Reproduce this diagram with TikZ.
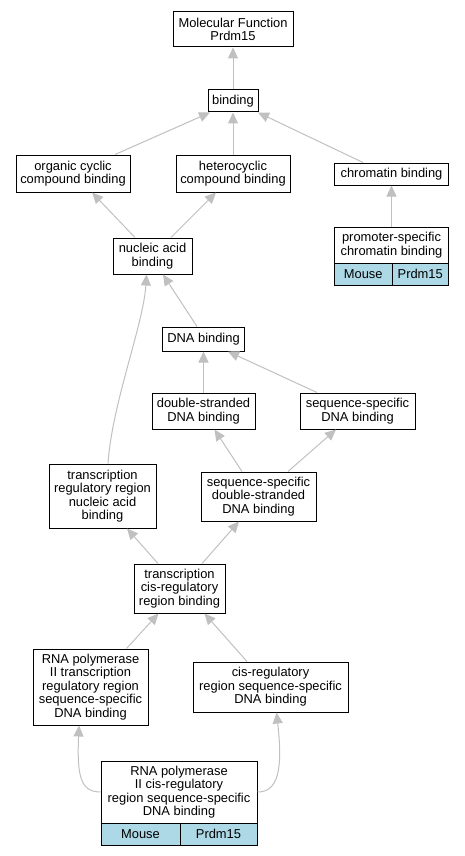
\documentclass[tikz,border=0pt]{standalone}
\usepackage{fontspec}
\setmainfont{Liberation Sans}
\usetikzlibrary{arrows.meta}
\definecolor{edgegray}{HTML}{C0C0C0}
\definecolor{cellblue}{HTML}{ADD8E6}
\tikzset{
  box/.style={draw=black, line width=1pt, inner sep=0pt, align=center,
    font=\fontsize{12.9pt}{13.4pt}\selectfont},
  cell/.style={box, fill=cellblue},
  edge/.style={draw=edgegray, line width=1pt,
    -{Triangle[length=11pt,width=10pt,fill=edgegray]}},
}
\begin{document}
\begin{tikzpicture}[x=1pt,y=-1pt]
\useasboundingbox (0,0) rectangle (464,856);
% nodes
\node[box, minimum width=120pt, minimum height=35pt] (mf) at (233,29.5) {Molecular Function\\Prdm15};
\node[box, minimum width=50pt, minimum height=22pt] (bind) at (233,101) {binding};
\node[box, minimum width=114pt, minimum height=37pt] (org) at (73,173.5) {organic cyclic\\compound binding};
\node[box, minimum width=114pt, minimum height=37pt] (het) at (233,173.5) {heterocyclic\\compound binding};
\node[box, minimum width=114pt, minimum height=22pt] (chrom) at (391.5,174) {chromatin binding};
\node[box, minimum width=114pt, minimum height=36pt] (prom) at (391.5,245) {promoter-specific\\chromatin binding};
\node[cell, minimum width=57.5pt, minimum height=22pt] (promA) at (363.25,274) {Mouse};
\node[cell, minimum width=56.5pt, minimum height=22pt] (promB) at (420.25,274) {Prdm15};
\node[box, minimum width=79pt, minimum height=36pt] (nuc) at (152.5,256) {nucleic acid\\binding};
\node[box, minimum width=82pt, minimum height=24pt] (dna) at (203.5,339) {DNA binding};
\node[box, minimum width=103pt, minimum height=36pt] (ds) at (203.5,411) {double-stranded\\DNA binding};
\node[box, minimum width=115pt, minimum height=36pt] (ss) at (357.5,411) {sequence-specific\\DNA binding};
\node[box, minimum width=107pt, minimum height=64pt] (trr) at (102.5,496) {transcription\\regulatory region\\nucleic acid\\binding};
\node[box, minimum width=115pt, minimum height=49pt] (ssds) at (258.5,496.5) {sequence-specific\\double-stranded\\DNA binding};
\node[box, minimum width=91pt, minimum height=49pt] (tcr) at (179.5,588.5) {transcription\\cis-regulatory\\region binding};
\node[box, minimum width=115pt, minimum height=76pt] (rna2) at (90.5,687) {RNA polymerase\\II transcription\\regulatory region\\sequence-specific\\DNA binding};
\node[box, minimum width=155pt, minimum height=50pt] (cis) at (270.5,687) {cis-regulatory\\region sequence-specific\\DNA binding};
\node[box, minimum width=156pt, minimum height=62pt] (bot) at (179,792) {RNA polymerase\\II cis-regulatory\\region sequence-specific\\DNA binding};
\node[cell, minimum width=79pt, minimum height=22pt] (botA) at (140.5,834) {Mouse};
\node[cell, minimum width=77pt, minimum height=22pt] (botB) at (218.5,834) {Prdm15};
% edges
\draw[edge] (bind.north) -- (mf.south);
\draw[edge] ([xshift=42pt]org.north) -- ([xshift=-23pt]bind.south);
\draw[edge] (het.north) -- (bind.south);
\draw[edge] ([xshift=-28.5pt]chrom.north) -- ([xshift=25pt]bind.south);
\draw[edge] (prom.north) -- (chrom.south);
\draw[edge] ([xshift=-17.5pt]nuc.north) -- ([xshift=19pt]org.south);
\draw[edge] ([xshift=18.5pt]nuc.north) -- ([xshift=-17pt]het.south);
\draw[edge] ([xshift=-6.5pt]dna.north) -- ([xshift=10.5pt]nuc.south);
\draw[edge] ([xshift=5.5pt]trr.north) .. controls +(4,-60) and +(-3,50) .. ([xshift=-6pt]nuc.south);
\draw[edge] (ds.north) -- (dna.south);
\draw[edge] ([xshift=-40.5pt]ss.north) -- ([xshift=24.5pt]dna.south);
\draw[edge] ([xshift=-16.5pt]ssds.north) -- ([xshift=11pt]ds.south);
\draw[edge] ([xshift=29.5pt]ssds.north) -- ([xshift=-21.5pt]ss.south);
\draw[edge] ([xshift=-21.5pt]tcr.north) -- ([xshift=24.5pt]trr.south);
\draw[edge] ([xshift=22.5pt]tcr.north) -- ([xshift=-19.5pt]ssds.south);
\draw[edge] ([xshift=36pt]rna2.north) -- ([xshift=-21pt]tcr.south);
\draw[edge] ([xshift=-23.5pt]cis.north) -- ([xshift=25pt]tcr.south);
\draw[edge] (bot.west) .. controls (80,792) and (77,775) .. ([xshift=-11.5pt]rna2.south);
\draw[edge] (bot.east) .. controls (278,792) and (283,770) .. ([xshift=6pt]cis.south);
\end{tikzpicture}
\end{document}
